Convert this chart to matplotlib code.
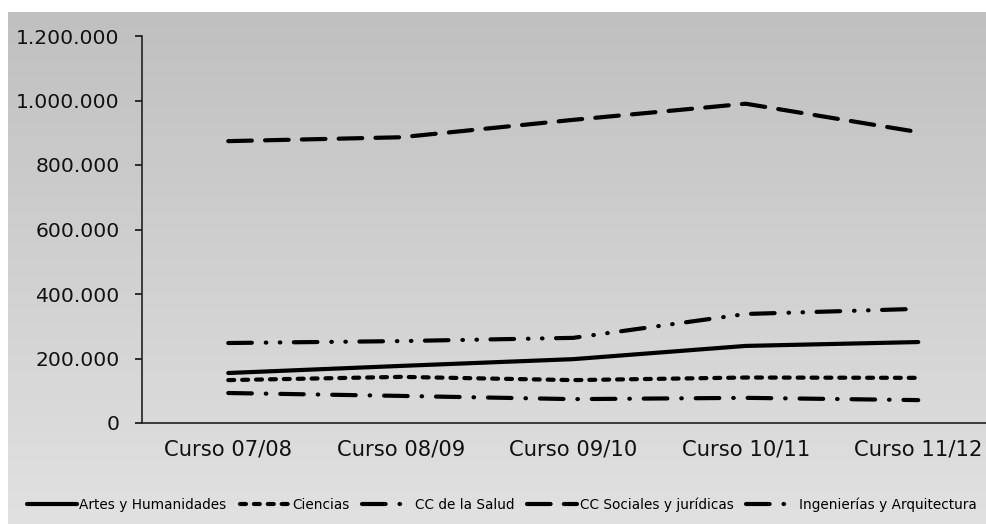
import matplotlib
matplotlib.use("Agg")
import matplotlib.pyplot as plt
import numpy as np
from matplotlib.ticker import FuncFormatter, MultipleLocator

# Datos por curso académico
cursos = ["Curso 07/08", "Curso 08/09", "Curso 09/10", "Curso 10/11", "Curso 11/12"]
artes = [155000, 177000, 198000, 239000, 251000]
ciencias = [133000, 143000, 133000, 141000, 140000]
salud = [93000, 84000, 74000, 78000, 71000]
sociales = [874000, 886000, 940000, 990000, 902000]
ingenierias = [248000, 254000, 264000, 338000, 354000]
ramas = ["Artes y Humanidades", "Ciencias", "CC de la Salud",
         "CC Sociales y jurídicas", "Ingenierías y Arquitectura"]

plt.rcParams["lines.scale_dashes"] = False
plt.rcParams["font.family"] = ["DejaVu Sans"]

W, H = 986, 524
fig = plt.figure(figsize=(W / 100, H / 100), dpi=100, facecolor="white")

# Fondo con degradado vertical
bg = fig.add_axes([8 / W, 0, 1 - 8 / W, (H - 12) / H], zorder=0)
grad = np.linspace(0, 1, 256).reshape(-1, 1)
top = np.array([0.753, 0.753, 0.753])
bottom = np.array([0.882, 0.882, 0.882])
img = top + (bottom - top) * grad[:, :, None]
bg.imshow(img, aspect="auto", extent=[0, 1, 0, 1], origin="upper")
bg.set_axis_off()

left_px, right_px = 142, 142 + 5 * 172.5
y0_px, y1_px = 423, 36
ax = fig.add_axes([left_px / W, 1 - y0_px / H, (right_px - left_px) / W,
                   (y0_px - y1_px) / H], zorder=1)
ax.patch.set_alpha(0)

x = np.arange(len(cursos))
lw = 3.0
estilos = [
    "-",
    (0, (4.3, 5.7)),
    (0, (17, 10, 0.4, 10)),
    (0, (17, 9.5)),
    (0, (17, 10, 0.4, 9.7, 0.4, 9.7)),
]
series = [artes, ciencias, salud, sociales, ingenierias]
for vals, nombre, ls in zip(series, ramas, estilos):
    ax.plot(x, vals, color="black", lw=lw, linestyle=ls,
            dash_capstyle="round", solid_capstyle="round", label=nombre)

ax.set_xlim(-0.5, 4.5)
ax.set_ylim(0, 1200000)
ax.yaxis.set_major_locator(MultipleLocator(200000))
ax.yaxis.set_major_formatter(
    FuncFormatter(lambda v, p: f"{int(v):,}".replace(",", ".")))
ax.set_xticks(x)
ax.set_xticklabels(cursos)
ax.tick_params(axis="x", length=0, pad=12, labelsize=15.2, colors="#111111")
ax.tick_params(axis="y", length=5, width=1.2, direction="out", pad=11,
               labelsize=14.6, colors="#111111")
for s in ["top", "right"]:
    ax.spines[s].set_visible(False)
for s in ["left", "bottom"]:
    ax.spines[s].set_linewidth(1.2)
    ax.spines[s].set_color("#222222")
ax.grid(False)

leg = fig.legend(loc="center left", bbox_to_anchor=(27 / W, 1 - 505 / H),
                 ncol=5, frameon=False, fontsize=9.8, handlelength=3.7,
                 handletextpad=0.15, columnspacing=0.95, borderpad=0,
                 borderaxespad=0)

fig.savefig("out.png", dpi=100)
